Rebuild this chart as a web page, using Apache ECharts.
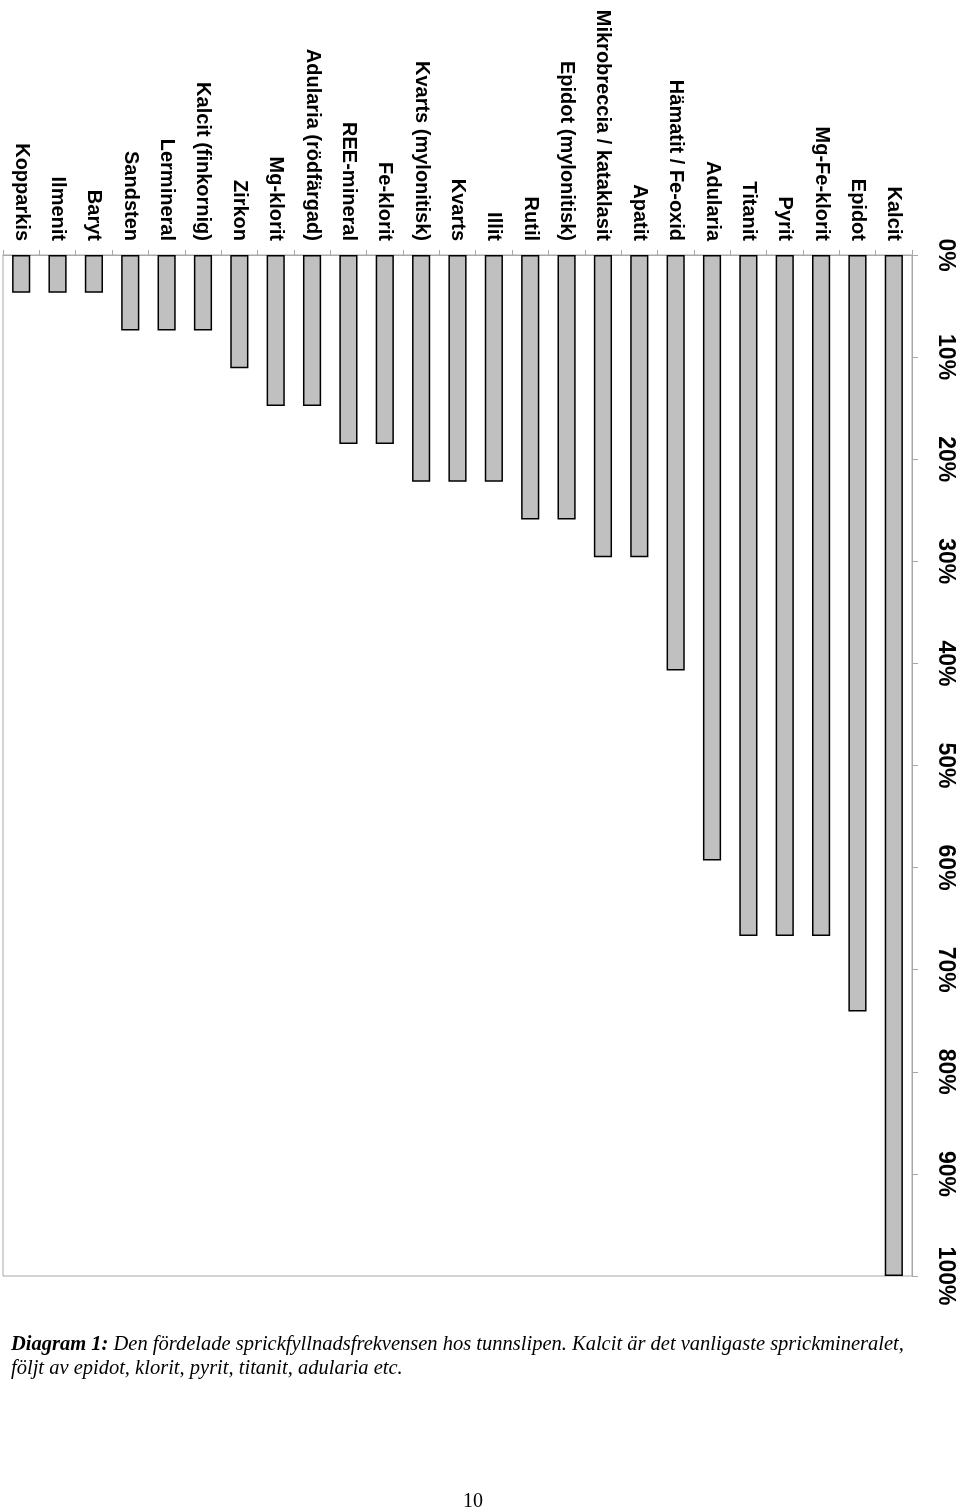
<!DOCTYPE html>
<html>
<head>
<meta charset="utf-8">
<script src="https://cdn.jsdelivr.net/npm/echarts@6/dist/echarts.min.js"></script>
<style>
  html, body { margin: 0; padding: 0; background: #fff; }
  #chart { width: 960px; height: 1512px; }
</style>
</head>
<body>
<div id="chart"></div>
<script>
// mineraler, vanligast först (visas från höger till vänster)
var minerals = ['Kalcit', 'Epidot', 'Mg-Fe-klorit', 'Pyrit', 'Titanit', 'Adularia',
    'Hämatit / Fe-oxid', 'Apatit', 'Mikrobreccia / kataklasit', 'Epidot (mylonitisk)',
    'Rutil', 'Illit', 'Kvarts', 'Kvarts (mylonitisk)', 'Fe-klorit', 'REE-mineral',
    'Adularia (rödfärgad)', 'Mg-klorit', 'Zirkon', 'Kalcit (finkornig)', 'Lermineral',
    'Sandsten', 'Baryt', 'Ilmenit', 'Kopparkis'];
// frekvens i procent
var frekvens = [100, 74.1, 66.7, 66.7, 66.7, 59.3, 40.7, 29.6, 29.6, 25.9,
    25.9, 22.2, 22.2, 22.2, 18.5, 18.5, 14.8, 14.8, 11.1, 7.4, 7.4,
    7.4, 3.7, 3.7, 3.7];
var axisMin = 0, axisMax = 100, axisStep = 10;

var chart = echarts.init(document.getElementById('chart'));

var option = {
    backgroundColor: '#FFFFFF',
    animation: false,
    grid: {
        left: 3,
        right: 48,
        top: 255,
        bottom: 236,
        show: true,
        borderColor: '#a8a8a8',
        borderWidth: 1
    },
    xAxis: {
        type: 'category',
        position: 'top',
        inverse: true,
        data: minerals,
        axisLine: { lineStyle: { color: '#a8a8a8' } },
        axisTick: { show: true, length: 5, lineStyle: { color: '#a8a8a8' } },
        axisLabel: {
            rotate: -90,
            interval: 0,
            margin: 14,
            color: '#000',
            fontFamily: 'Liberation Sans, Arial, sans-serif',
            fontWeight: 'bold',
            fontSize: 20
        }
    },
    yAxis: {
        type: 'value',
        position: 'right',
        inverse: true,
        min: axisMin,
        max: axisMax,
        interval: axisStep,
        splitLine: { show: false },
        axisLine: { show: true, lineStyle: { color: '#a8a8a8' } },
        axisTick: { show: true, length: 6, lineStyle: { color: '#a8a8a8' } },
        axisLabel: {
            rotate: -90,
            margin: 22,
            color: '#000',
            fontFamily: 'Liberation Sans, Arial, sans-serif',
            fontWeight: 'bold',
            fontSize: 23,
            formatter: '{value}%'
        }
    },
    series: [{
        type: 'bar',
        data: frekvens,
        barWidth: '50%',
        itemStyle: {
            color: '#c0c0c0',
            borderColor: '#000',
            borderWidth: 1.5
        }
    }],
    graphic: [{
        type: 'text',
        left: 11,
        top: 1333,
        style: {
            text: '{b|Diagram 1:} Den fördelade sprickfyllnadsfrekvensen hos tunnslipen. Kalcit är det vanligaste sprickmineralet,\nföljt av epidot, klorit, pyrit, titanit, adularia etc.',
            fill: '#000',
            font: 'italic 20.5px "Liberation Serif", "Times New Roman", serif',
            lineHeight: 24,
            rich: {
                b: {
                    fontFamily: 'Liberation Serif, Times New Roman, serif',
                    fontStyle: 'italic',
                    fontWeight: 'bold',
                    fontSize: 20.5
                }
            }
        }
    }, {
        type: 'text',
        left: 463,
        top: 1492,
        style: {
            text: '10',
            fill: '#000',
            font: '20px "Liberation Serif", "Times New Roman", serif'
        }
    }]
};

chart.setOption(option);
</script>
</body>
</html>
